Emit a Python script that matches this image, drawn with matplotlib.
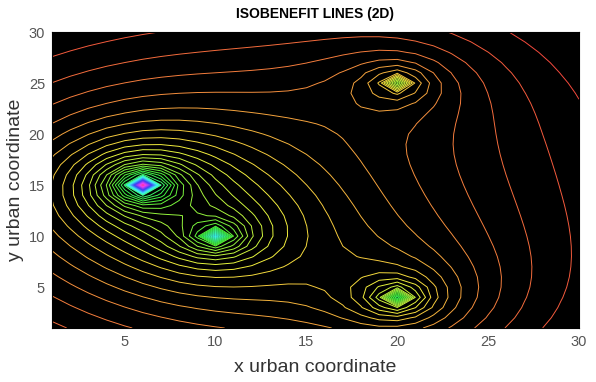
import numpy as np
import matplotlib
matplotlib.use("Agg")
import matplotlib.pyplot as plt
from matplotlib.colors import ListedColormap, Normalize

# service centres on the urban grid: position, attractiveness,
# and the benefit read at the centre cell itself
centre_x = [6, 10, 20, 20]
centre_y = [15, 10, 4, 25]
centre_w = [1.0, 0.6, 0.55, 0.35]
centre_peak = [2.28, 1.55, 1.30, 1.08]

grid_x = np.arange(1, 31)
grid_y = np.arange(1, 31)
n_levels = 46

X, Y = np.meshgrid(grid_x, grid_y)
Z = np.zeros(X.shape)
for cx, cy, w in zip(centre_x, centre_y, centre_w):
    d = np.hypot(X - cx, Y - cy)
    Z += w / np.sqrt(d + 0.3)
for cx, cy, pk in zip(centre_x, centre_y, centre_peak):
    Z[cy - 1, cx - 1] = pk

# hsv map, washed out like the thin jpeg lines of the original
t = np.linspace(0, 1, 256) ** 1.1
base = plt.get_cmap('hsv')(t)[:, :3]
cmap = ListedColormap(base * 0.72 + 0.24)
zmin, zmax = Z.min(), Z.max()
norm = Normalize(zmin, zmin + (zmax - zmin) / 0.93)

plt.rcParams['font.family'] = ['Liberation Sans', 'DejaVu Sans']
fig = plt.figure(figsize=(5.96, 3.82), dpi=100)
ax = fig.add_axes([0.0872, 0.1414, 0.8843, 0.7748])
ax.set_facecolor('black')
levels = np.linspace(zmin, zmax, n_levels + 2)[1:-1]
ax.contour(X, Y, Z, levels=levels, cmap=cmap, norm=norm, linewidths=0.7)
ax.set_xlim(1, 30)
ax.set_ylim(1, 30)
ax.set_xticks([5, 10, 15, 20, 25, 30])
ax.set_yticks([5, 10, 15, 20, 25, 30])
ax.tick_params(colors='#555555', labelsize=10.5, length=0, pad=5)
ax.set_xlabel('x urban coordinate', fontsize=14, color='#333333', labelpad=7)
ax.set_ylabel('y urban coordinate', fontsize=14, color='#333333', labelpad=3)
ax.set_title('ISOBENEFIT LINES (2D)', fontsize=10, fontweight='bold', pad=10)
fig.savefig('out.png', dpi=100)
